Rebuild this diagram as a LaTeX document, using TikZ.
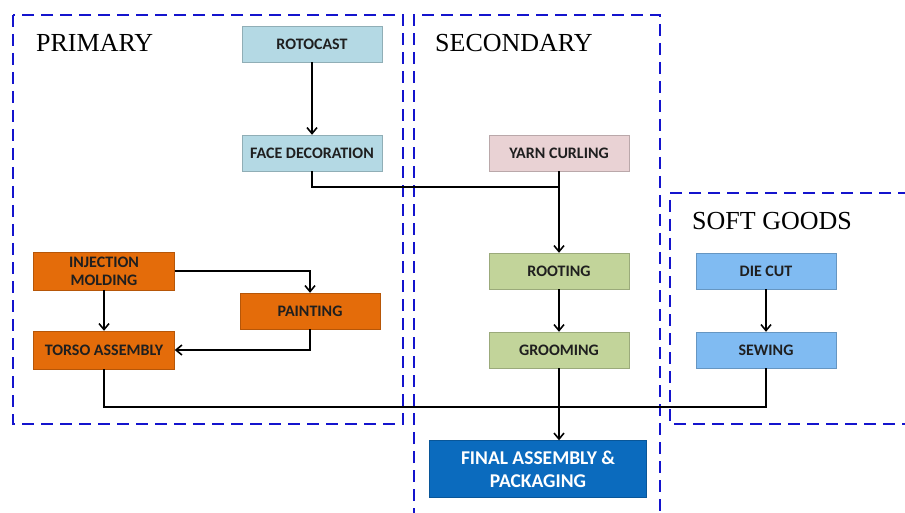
\documentclass[tikz,border=0pt]{standalone}
\usepackage{fontspec}
\setmainfont{Liberation Serif}
\newfontfamily\stagefont{Carlito}
\usetikzlibrary{arrows.meta}

\definecolor{zoneblue}{RGB}{20,20,205}
\definecolor{castblue}{HTML}{B4D9E4}
\definecolor{yarnpink}{HTML}{E9D2D4}
\definecolor{rootgreen}{HTML}{C2D49A}
\definecolor{moldorange}{HTML}{E46C0A}
\definecolor{clothblue}{HTML}{80BBF2}
\definecolor{packblue}{HTML}{0B6BBE}

\begin{document}
\begin{tikzpicture}[x=1pt, y=-1pt,
    every node/.style={font=\stagefont\bfseries\fontsize{16}{18}\selectfont},
    stage/.style={draw=#1!80!black, fill=#1, minimum width=140pt, minimum height=36pt,
                  inner sep=0pt, align=center, text=black!88},
    zone/.style={draw=zoneblue, dash pattern=on 12pt off 7pt, line width=1.6pt},
    zonetitle/.style={font=\fontsize{26}{28}\selectfont, anchor=west, inner sep=0pt},
    flow/.style={-{Straight Barb[length=6pt,width=10pt]}, line width=1.6pt}
]
\useasboundingbox (0,0) rectangle (905,513);

% dashed zones
\draw[zone] (13,15) rectangle (403,424);
\draw[zone] (414,520) |- (660,15) -- (660,520);
\draw[zone] (910,193) -| (670,424) -- (910,424);

\node[zonetitle] (primary) at (36,43) {PRIMARY};
\node[zonetitle] (secondary) at (435,43) {SECONDARY};
\node[zonetitle] (softgoods) at (692,221) {SOFT GOODS};

% stages
\node[stage=castblue] (rotocast) at (312,44) {ROTOCAST};
\node[stage=castblue] (facedeco) at (312,153) {FACE DECORATION};
\node[stage=yarnpink] (yarncurl) at (559,153) {YARN CURLING};
\node[stage=rootgreen] (rooting) at (559,271) {ROOTING};
\node[stage=rootgreen] (grooming) at (559,350) {GROOMING};
\node[stage=clothblue] (diecut) at (766,271) {DIE CUT};
\node[stage=clothblue] (sewing) at (766,350) {SEWING};
\node[stage=moldorange, minimum width=141pt, minimum height=38pt] (injection) at (104,271) {INJECTION\\MOLDING};
\node[stage=moldorange] (painting) at (310,311) {PAINTING};
\node[stage=moldorange, minimum width=141pt, minimum height=38pt] (torso) at (104,350) {TORSO ASSEMBLY};
\node[stage=packblue, minimum width=217pt, minimum height=57pt, text=white,
      font=\stagefont\bfseries\fontsize{19.5}{23}\selectfont] (final) at (538,469) {FINAL ASSEMBLY \&\\PACKAGING};

\coordinate (jtop) at (559,187);
\coordinate (jbot) at (766,407);

% flows
\draw[flow] (rotocast) -- (facedeco);
\draw[line width=1.6pt] (facedeco.south) |- (jtop);
\draw[flow] (yarncurl) -- (rooting);
\draw[flow] (rooting) -- (grooming);
\draw[flow] (diecut) -- (sewing);
\draw[flow] (injection.east) -| (painting.north);
\draw[flow] (injection) -- (torso);
\draw[flow] (painting.south) |- (torso.east);
\draw[line width=1.6pt] (torso.south) |- (jbot) -- (sewing.south);
\draw[flow] (grooming.south) -- (grooming.south |- final.north);
\end{tikzpicture}
\end{document}
